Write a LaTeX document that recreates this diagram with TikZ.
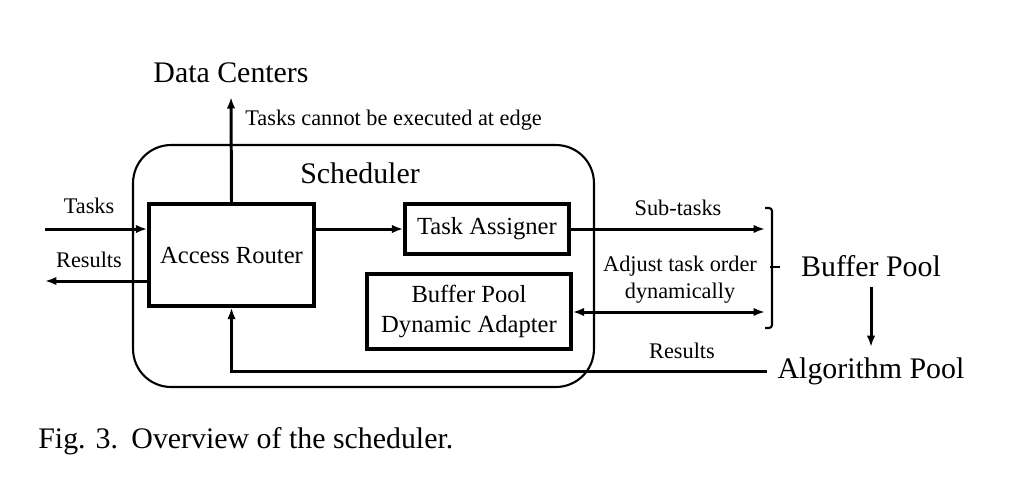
\documentclass[tikz,border=0pt]{standalone}
\usepackage{fontspec}
\setmainfont{Liberation Serif}
\usetikzlibrary{arrows.meta}

\begin{document}
\begin{tikzpicture}[x=0.02cm, y=-0.02cm,
	box/.style={draw, line width=1.9pt, inner sep=0pt, align=center, font=\fontsize{14}{17}\selectfont},
	lbl/.style={inner sep=0pt, align=center, font=\fontsize{12.7}{15.3}\selectfont},
	big/.style={inner sep=0pt, font=\fontsize{17}{20}\selectfont},
	arr/.style={-{Latex[length=2.3mm,width=1.7mm]}, line width=1.7pt}]
	\useasboundingbox (0,0) rectangle (1010,484);
	% scheduler frame
	\node[draw, line width=1.2pt, rounded corners=0.76cm, minimum width=9.22cm, minimum height=4.84cm] (sched) at (363.5,266) {};
	\node[big] (schedtxt) at (360,173) {Scheduler};
	% boxes
	\node[box, minimum width=3.3cm, minimum height=2.04cm] (ar) at (231.5,255) {Access Router};
	\node[box, minimum width=3.28cm, minimum height=1cm] (ta) at (487,229) {Task Assigner};
	\node[box, minimum width=4.08cm, minimum height=1.5cm] (bpda) at (469,311.5) {Buffer Pool\\Dynamic Adapter};
	% outer texts
	\node[big] (dc) at (231,73) {Data Centers};
	\node[big, inner sep=0.2cm] (bp) at (871,266) {Buffer Pool};
	\node[big, inner sep=0.2cm] (ap) at (871,371) {Algorithm Pool};
	\coordinate (dctip) at (231,97);
	\coordinate (tin) at (45,229);
	\coordinate (rout) at (45,281);
	\coordinate (bt) at (765,208);
	\coordinate (bb) at (765,328);
	\coordinate (bm) at (770,267);
	% connectors
	\draw[arr] (tin) -- (ar.west |- tin);
	\node[lbl] (tasks) at (89,206) {Tasks};
	\draw[arr] (ar.west |- rout) -- (rout);
	\node[lbl] (res) at (89,260) {Results};
	\draw[arr] (ar.north) -- (dctip);
	\node[lbl, anchor=west] (edge) at (245,120) {Tasks cannot be executed at edge};
	\draw[arr] (ar.east |- ta) -- (ta.west);
	\draw[arr] (ta.east) -- (bt |- ta);
	\node[lbl] (sub) at (678,208) {Sub-tasks};
	\draw[arr, {Latex[length=2.3mm,width=1.7mm]}-{Latex[length=2.3mm,width=1.7mm]}] (bpda.east |- 0,312) -- (bt |- 0,312);
	\node[lbl] (adj) at (680,280) {Adjust task order\\dynamically};
	% bracket
	\draw[line width=1.2pt, rounded corners=0.06cm] (bt) -- ++(7,0) |- (bb);
	\draw[line width=1.2pt] (bm) -- ++(10,0);
	\draw[arr] (bp.south) -- (ap.north);
	\draw[arr] (ap.west) -| (ar.south);
	\node[lbl] (res2) at (682,351) {Results};
	% caption
	\node[big, anchor=west] (cap) at (38,441) {Fig. 3.\hspace{0.45em}Overview of the scheduler.};
\end{tikzpicture}
\end{document}
